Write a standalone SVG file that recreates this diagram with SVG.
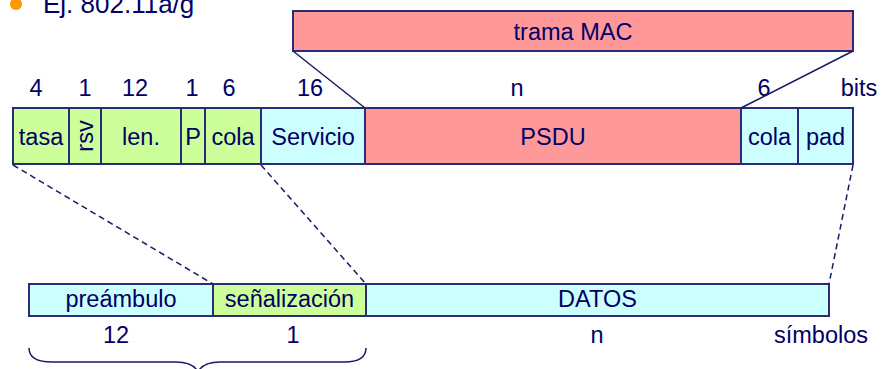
<svg xmlns="http://www.w3.org/2000/svg" width="881" height="369" viewBox="0 0 881 369">
  <style>
    text { font-family: "Liberation Sans", Arial, sans-serif; font-size: 23.5px; fill: #000066; text-anchor: middle; }
    .box { stroke: #2b2b7a; stroke-width: 2; }
    .green { fill: #ccff99; }
    .cyan { fill: #ccffff; }
    .red { fill: #ff9999; }
    .solid { stroke: #1a1a66; stroke-width: 1.5; fill: none; }
    .dash { stroke: #1a1a66; stroke-width: 1.5; fill: none; stroke-dasharray: 6 4; }
  </style>

  <!-- heading bullet -->
  <g id="heading">
    <circle cx="16" cy="4" r="6" fill="#ff9900"/>
    <text x="43" y="13" style="font-size:26px; text-anchor:start">Ej. 802.11a/g</text>
  </g>

  <!-- MAC frame -->
  <g id="trama-mac">
    <rect class="box red" x="293" y="11" width="560" height="40"/>
    <text x="573" y="40">trama MAC</text>
  </g>

  <!-- field sizes (bits) -->
  <g id="bit-sizes">
    <text x="36" y="96">4</text>
    <text x="85" y="96">1</text>
    <text x="135" y="96">12</text>
    <text x="192" y="96">1</text>
    <text x="229" y="96">6</text>
    <text x="310" y="96">16</text>
    <text x="517" y="96">n</text>
    <text x="764" y="96">6</text>
    <text x="859" y="96">bits</text>
  </g>

  <!-- PLCP frame fields -->
  <g id="f-tasa"><rect class="box green" x="13" y="108" width="56" height="56"/><text x="41" y="145">tasa</text></g>
  <g id="f-rsv"><rect class="box green" x="69" y="108" width="32" height="56"/><text transform="translate(93,136) rotate(-90)" x="0" y="0">rsv</text></g>
  <g id="f-len"><rect class="box green" x="101" y="108" width="80" height="56"/><text x="141" y="145">len.</text></g>
  <g id="f-p"><rect class="box green" x="181" y="108" width="24" height="56"/><text x="193" y="145">P</text></g>
  <g id="f-cola1"><rect class="box green" x="205" y="108" width="56" height="56"/><text x="233" y="145">cola</text></g>
  <g id="f-servicio"><rect class="box cyan" x="261" y="108" width="104" height="56"/><text x="313" y="145">Servicio</text></g>
  <g id="f-psdu"><rect class="box red" x="365" y="108" width="376" height="56"/><text x="553" y="145">PSDU</text></g>
  <g id="f-cola2"><rect class="box cyan" x="741" y="108" width="57" height="56"/><text x="769.5" y="145">cola</text></g>
  <g id="f-pad"><rect class="box cyan" x="798" y="108" width="55" height="56"/><text x="825.5" y="145">pad</text></g>

  <!-- symbol-level frame -->
  <g id="s-preambulo"><rect class="box cyan" x="29" y="284" width="184" height="32"/><text x="121" y="307">preámbulo</text></g>
  <g id="s-senalizacion"><rect class="box green" x="213" y="284" width="153" height="32"/><text x="289.5" y="307">señalización</text></g>
  <g id="s-datos"><rect class="box cyan" x="366" y="284" width="463" height="32"/><text x="597.5" y="307">DATOS</text></g>

  <!-- symbol counts -->
  <g id="symbol-counts">
    <text x="116" y="343">12</text>
    <text x="293" y="343">1</text>
    <text x="597" y="343">n</text>
    <text x="821" y="343">símbolos</text>
  </g>

  <!-- connectors -->
  <g id="connectors">
    <line class="solid" x1="293" y1="51" x2="365" y2="108"/>
    <line class="solid" x1="853" y1="51" x2="741" y2="108"/>
    <line class="dash" x1="13" y1="165" x2="213" y2="284"/>
    <line class="dash" x1="261" y1="165" x2="366" y2="284"/>
    <line class="dash" x1="853" y1="165" x2="829" y2="284"/>
    <path class="solid" d="M29,348 Q29,362 52,362 L176,362 Q193,362 198,372 Q203,362 220,362 L344,362 Q366,362 366,348"/>
  </g>
</svg>
